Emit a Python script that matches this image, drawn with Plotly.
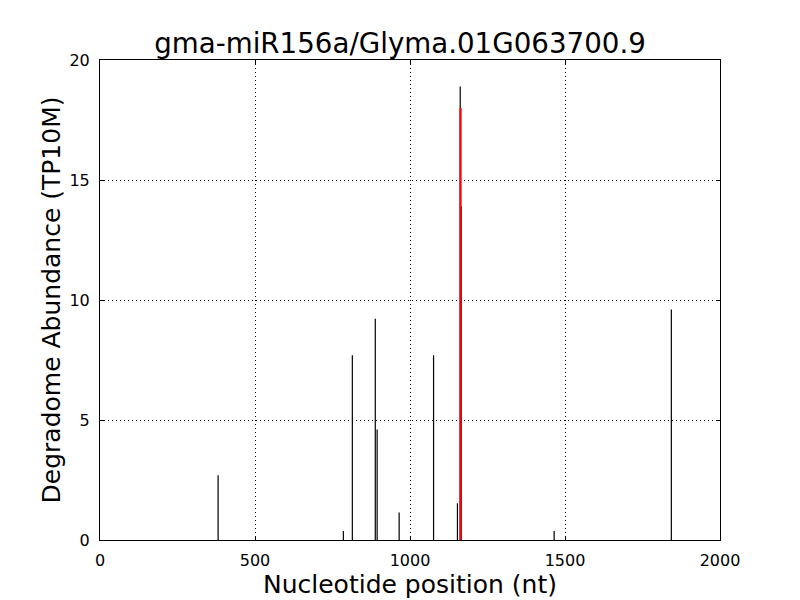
import plotly.graph_objects as go

positions = [381, 785, 814, 888, 894, 965, 1076, 1153, 1162, 1165, 1465, 1843]
abundance = [2.7, 0.37, 7.7, 9.22, 4.6, 1.15, 7.7, 1.53, 18.9, 13.9, 0.37, 9.6]
target_pos = [1163]
target_abund = [18.0]

xs, ys = [], []
for p, a in zip(positions, abundance):
    xs += [p, p, None]
    ys += [0, a, None]
rx, ry = [], []
for p, a in zip(target_pos, target_abund):
    rx += [p, p, None]
    ry += [0, a, None]

fig = go.Figure()
fig.add_trace(go.Scatter(x=xs, y=ys, mode="lines", line=dict(color="black", width=1.2),
                         hoverinfo="skip", showlegend=False))
fig.add_trace(go.Scatter(x=rx, y=ry, mode="lines", line=dict(color="red", width=2.2),
                         hoverinfo="skip", showlegend=False))

font = "DejaVu Sans"
axis_common = dict(showline=True, linecolor="black", linewidth=1, mirror="allticks",
                   ticks="inside", ticklen=4, tickcolor="black",
                   showgrid=True, gridcolor="black", gridwidth=0.8, griddash="1px,3px",
                   zeroline=False, ticklabelstandoff=6, automargin=False,
                   tickfont=dict(family=font, size=16, color="black"))
fig.update_layout(
    width=800, height=600,
    paper_bgcolor="white", plot_bgcolor="white",
    margin=dict(l=100, r=80, t=60, b=60, autoexpand=False),
    title=dict(text="gma-miR156a/Glyma.01G063700.9", x=0.5, xanchor="center",
               y=1 - 43 / 600, yanchor="middle",
               font=dict(family=font, size=27.7, color="black")),
    xaxis=dict(range=[0, 2000], tickvals=[0, 500, 1000, 1500, 2000],
               title=dict(text="Nucleotide position (nt)", font=dict(family=font, size=25, color="black"), standoff=5),
               **axis_common),
    yaxis=dict(range=[0, 20], tickvals=[0, 5, 10, 15, 20],
               title=dict(text="Degradome Abundance (TP10M)", font=dict(family=font, size=25, color="black"), standoff=1),
               **axis_common),
)
fig.write_html("out.html", config={"displayModeBar": False},
               post_script="document.body.style.margin='0';document.body.style.overflow='hidden';")
